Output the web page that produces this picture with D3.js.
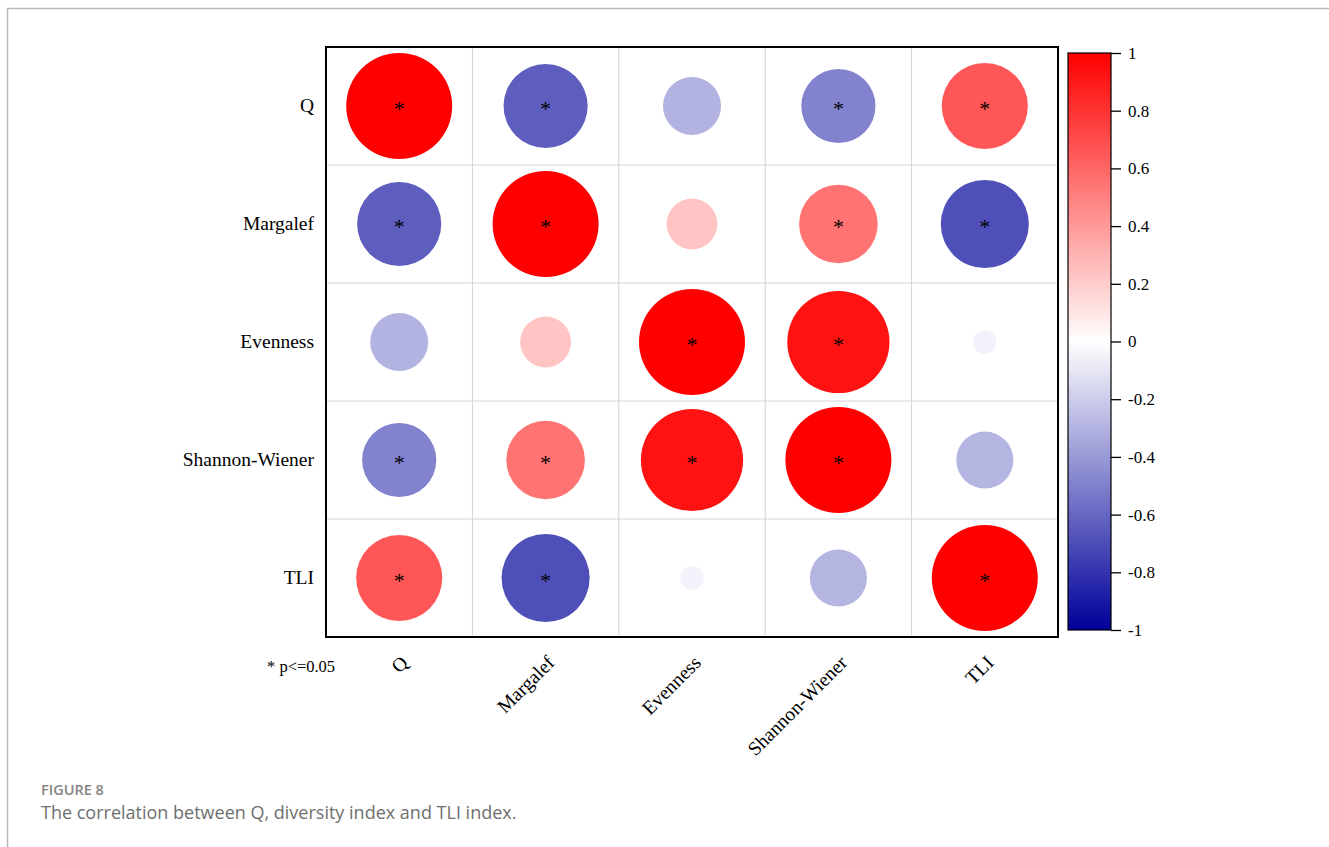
<!DOCTYPE html>
<html lang="en">
<head>
    <meta charset="UTF-8">
    <title>Correlation between Q, diversity index and TLI index</title>
    <script src="https://d3js.org/d3.v7.min.js"></script>
    <style>
        body {
            margin: 0;
            background: #fff;
        }
        .caption-head {
            font-family: "Open Sans", sans-serif;
            font-size: 14.5px;
            font-weight: 600;
            fill: #858585;
        }
        .caption-text {
            font-family: "Open Sans", sans-serif;
            font-size: 18px;
            fill: #6f6f6f;
        }
    </style>
</head>
<body>
    <div id="chart"></div>

    <script>
        // variables, in the order of both rows and columns
        const variables = ['Q', 'Margalef', 'Evenness', 'Shannon-Wiener', 'TLI'];

        // correlation matrix (symmetric)
        const rowQ        = [1.00, -0.63, -0.30, -0.49,  0.66];
        const rowMargalef = [-0.63, 1.00,  0.23,  0.55, -0.69];
        const rowEvenness = [-0.30, 0.23,  1.00,  0.93, -0.05];
        const rowShannon  = [-0.49, 0.55,  0.93,  1.00, -0.29];
        const rowTLI      = [0.66, -0.69, -0.05, -0.29,  1.00];
        const matrix = [rowQ, rowMargalef, rowEvenness, rowShannon, rowTLI];

        // cells marked significant (* p<=0.05)
        const signifQ        = [1, 1, 0, 1, 1];
        const signifMargalef = [1, 1, 0, 1, 1];
        const signifEvenness = [0, 0, 1, 1, 0];
        const signifShannon  = [1, 1, 1, 1, 0];
        const signifTLI      = [1, 1, 0, 0, 1];
        const signif = [signifQ, signifMargalef, signifEvenness, signifShannon, signifTLI];

        const colorTicks = [1, 0.8, 0.6, 0.4, 0.2, 0, -0.2, -0.4, -0.6, -0.8, -1];

        const cells = [];
        matrix.forEach((row, i) => row.forEach((v, j) => {
            cells.push({ row: variables[i], col: variables[j], r: v, sig: signif[i][j] === 1 });
        }));

        const W = 1329, H = 847;
        const svg = d3.select('#chart').append('svg')
            .attr('width', W)
            .attr('height', H);

        // card outline
        svg.append('path')
            .attr('d', `M7.5,${H} V8.5 H${W}`)
            .attr('fill', 'none')
            .attr('stroke', '#b8b8b8')
            .attr('stroke-width', 1.5);

        const plot = { left: 326, top: 47, right: 1058, bottom: 637 };

        const x = d3.scaleBand()
            .domain(variables)
            .range([plot.left, plot.right]);
        const y = d3.scaleBand()
            .domain(variables)
            .range([plot.top, plot.bottom]);

        const color = d3.scaleLinear()
            .domain([-1, 0, 1])
            .range(['#00009a', '#ffffff', '#ff0000']);

        // area proportional to |r|
        const radius = d3.scaleSqrt()
            .domain([0, 1])
            .range([0, 53]);

        // grid
        const grid = svg.append('g');
        variables.slice(1).forEach(v => {
            grid.append('line')
                .attr('x1', x(v)).attr('x2', x(v))
                .attr('y1', plot.top).attr('y2', plot.bottom)
                .attr('stroke', '#d4d4d4');
            grid.append('line')
                .attr('x1', plot.left).attr('x2', plot.right)
                .attr('y1', y(v)).attr('y2', y(v))
                .attr('stroke', '#d4d4d4');
        });

        // circles
        svg.append('g')
            .selectAll('circle')
            .data(cells)
            .enter()
            .append('circle')
            .attr('cx', d => x(d.col) + x.bandwidth() / 2)
            .attr('cy', d => y(d.row) + y.bandwidth() / 2)
            .attr('r', d => radius(Math.abs(d.r)))
            .attr('fill', d => color(d.r));

        // significance marks
        svg.append('g')
            .selectAll('text')
            .data(cells.filter(d => d.sig))
            .enter()
            .append('text')
            .attr('x', d => x(d.col) + x.bandwidth() / 2)
            .attr('y', d => y(d.row) + y.bandwidth() / 2 + 10)
            .attr('text-anchor', 'middle')
            .style('font-family', '"Liberation Serif", serif')
            .style('font-size', '22px')
            .text('*');

        // frame
        svg.append('rect')
            .attr('x', plot.left)
            .attr('y', plot.top)
            .attr('width', plot.right - plot.left)
            .attr('height', plot.bottom - plot.top)
            .attr('fill', 'none')
            .attr('stroke', '#000')
            .attr('stroke-width', 2);

        // row labels
        svg.append('g')
            .selectAll('text')
            .data(variables)
            .enter()
            .append('text')
            .attr('x', plot.left - 12)
            .attr('y', d => y(d) + y.bandwidth() / 2 + 6)
            .attr('text-anchor', 'end')
            .style('font-family', '"Liberation Serif", serif')
            .style('font-size', '19.5px')
            .text(d => d);

        // column labels, rotated
        svg.append('g')
            .selectAll('text')
            .data(variables)
            .enter()
            .append('text')
            .attr('transform', d => `translate(${x(d) + x.bandwidth() / 2 + 10},${plot.bottom + 27}) rotate(-45)`)
            .attr('text-anchor', 'end')
            .style('font-family', '"Liberation Serif", serif')
            .style('font-size', '19.5px')
            .text(d => d);

        svg.append('text')
            .attr('x', 267)
            .attr('y', 672)
            .style('font-family', '"Liberation Serif", serif')
            .style('font-size', '16.5px')
            .text('* p<=0.05');

        // colour bar
        const bar = { left: 1068, right: 1111, top: 53, bottom: 630 };
        const cy = d3.scaleLinear()
            .domain([-1, 1])
            .range([bar.bottom, bar.top]);

        const grad = svg.append('defs').append('linearGradient')
            .attr('id', 'cbar')
            .attr('x1', 0).attr('y1', 1)
            .attr('x2', 0).attr('y2', 0);
        d3.range(-1, 1.0001, 0.1).forEach(v => {
            grad.append('stop')
                .attr('offset', (v + 1) / 2)
                .attr('stop-color', color(v));
        });

        svg.append('rect')
            .attr('x', bar.left)
            .attr('y', bar.top)
            .attr('width', bar.right - bar.left)
            .attr('height', bar.bottom - bar.top)
            .attr('fill', 'url(#cbar)')
            .attr('stroke', '#000')
            .attr('stroke-width', 1.2);

        const cAxis = svg.append('g')
            .attr('transform', `translate(${bar.right},0)`)
            .call(d3.axisRight(cy)
                .tickValues(colorTicks)
                .tickSize(10)
                .tickPadding(7)
                .tickFormat(d => String(+d.toFixed(1))));
        cAxis.select('.domain').remove();
        cAxis.selectAll('line').attr('stroke', '#000').attr('stroke-width', 1.3);
        cAxis.selectAll('text')
            .attr('fill', '#000')
            .style('font-family', '"Liberation Serif", serif')
            .style('font-size', '17px');

        // caption
        svg.append('text')
            .attr('class', 'caption-head')
            .attr('x', 41)
            .attr('y', 795)
            .text('FIGURE 8');
        svg.append('text')
            .attr('class', 'caption-text')
            .attr('x', 41)
            .attr('y', 819)
            .text('The correlation between Q, diversity index and TLI index.');
    </script>
</body>
</html>
